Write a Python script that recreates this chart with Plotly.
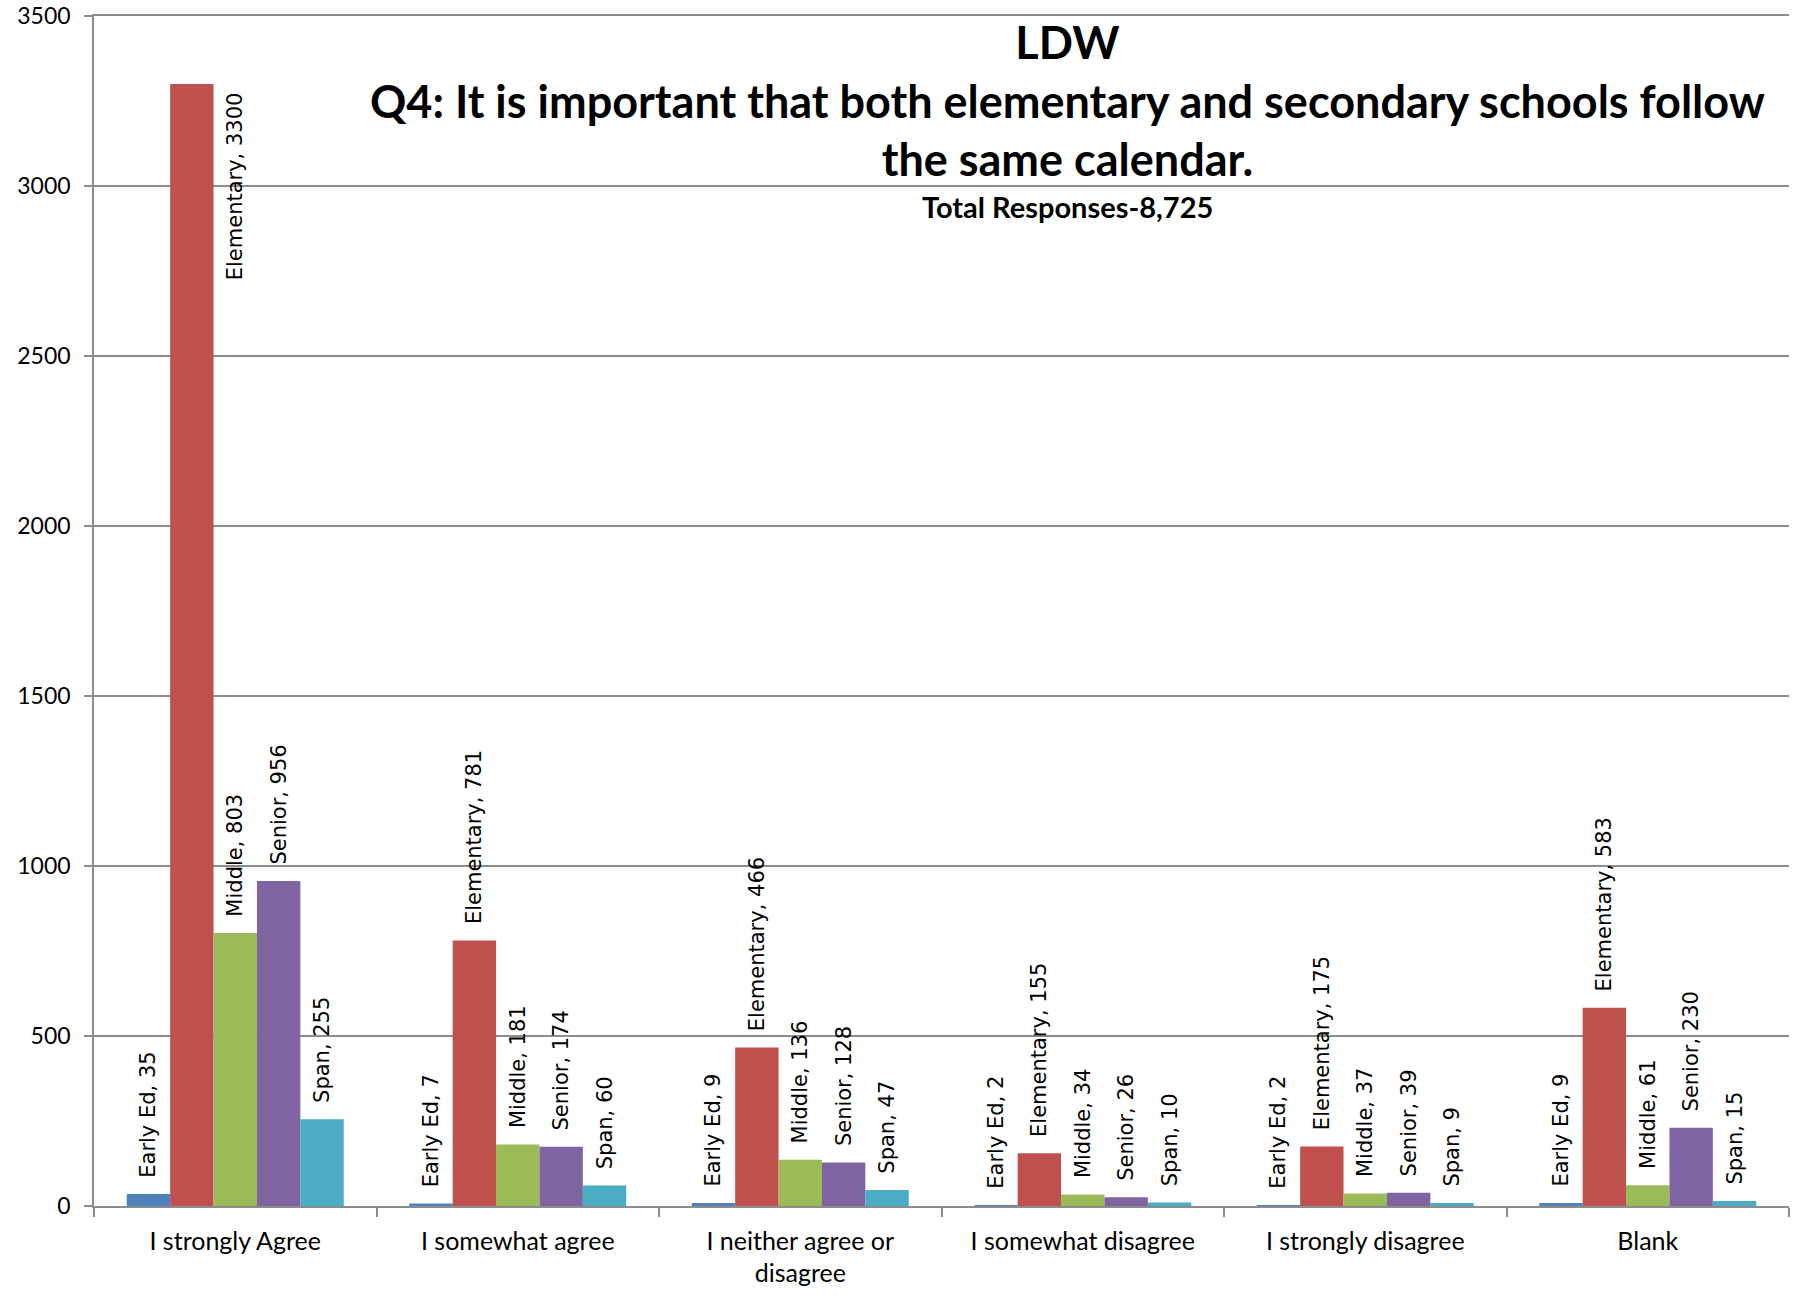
import plotly.graph_objects as go

# Survey categories and counts per school level
categories = ["I strongly Agree", "I somewhat agree", "I neither agree or<br>disagree",
              "I somewhat disagree", "I strongly disagree", "Blank"]
early_ed = [35, 7, 9, 2, 2, 9]
elementary = [3300, 781, 466, 155, 175, 583]
middle = [803, 181, 136, 34, 37, 61]
senior = [956, 174, 128, 26, 39, 230]
span = [255, 60, 47, 10, 9, 15]

series_names = ["Early Ed", "Elementary", "Middle", "Senior", "Span"]
series_values = [early_ed, elementary, middle, senior, span]
colors = ["#4F81BD", "#C0504D", "#9BBB59", "#8064A2", "#4BACC6"]

y_ticks = [0, 500, 1000, 1500, 2000, 2500, 3000, 3500]

title_text = ("LDW<br>Q4: It is important that both elementary and secondary schools follow"
              "<br>the same calendar.")
subtitle_text = "Total Responses-8,725"

Y_MAX = 3500
LABEL_FONT = dict(family="DejaVu Sans", size=21, color="black")
NBSP = "\u00a0"

fig = go.Figure()
big_labels = []
for name, vals, col in zip(series_names, series_values, colors):
    texts = []
    for cat, v in zip(categories, vals):
        lab = f"{name}, {v}"
        # labels that would run past the top of the axis go beside the bar
        if v > Y_MAX - 600:
            texts.append("")
            big_labels.append((cat, v, lab))
        else:
            texts.append(NBSP * 2 + lab)
    fig.add_trace(go.Bar(
        x=categories, y=vals, name=name,
        marker=dict(color=col, line=dict(width=0)),
        text=texts, textposition="outside", textangle=-90,
        textfont=LABEL_FONT, constraintext="none", cliponaxis=False,
    ))

for cat, v, lab in big_labels:
    fig.add_annotation(x=cat, y=v, xref="x", yref="y", text=lab, textangle=-90,
                       showarrow=False, xanchor="center", yanchor="top", yshift=-6,
                       font=LABEL_FONT)

fig.add_annotation(x=0.5746, y=0.9294, xref="paper", yref="paper", text=title_text,
                   showarrow=False, xanchor="center", yanchor="middle",
                   font=dict(family="Lato", size=45, color="black", weight="bold"))
fig.add_annotation(x=0.5746, y=0.8395, xref="paper", yref="paper", text=subtitle_text,
                   showarrow=False, xanchor="center", yanchor="middle",
                   font=dict(family="Lato", size=29, color="black", weight="bold"))

grid = "#8C8C8C"
fig.update_layout(
    width=1818, height=1304,
    margin=dict(l=94, r=29, t=16, b=98),
    paper_bgcolor="white", plot_bgcolor="white",
    barmode="group", bargap=0.232, bargroupgap=0,
    showlegend=False,
    font=dict(family="Lato", color="black"),
    xaxis=dict(
        showline=True, linecolor=grid, linewidth=1.5, mirror=True,  # top line = 3500 grid
        ticks="outside", tickson="boundaries", ticklen=9, tickcolor=grid, tickwidth=1.5,
        tickfont=dict(family="Lato", size=25, color="black"),
        ticklabelstandoff=12,
        showgrid=False, automargin=False,
    ),
    yaxis=dict(
        range=[0, Y_MAX], tickvals=y_ticks,
        showline=True, linecolor=grid, linewidth=1.5,
        ticks="outside", ticklen=8, tickcolor=grid, tickwidth=1.5,
        showgrid=True, gridcolor=grid, gridwidth=1.5,
        zeroline=False,
        tickfont=dict(family="Lato", size=23, color="black"),
        ticklabelstandoff=9, automargin=False, ticklabeloverflow="allow",
    ),
)

# drop the default 8px body margin so the figure sits at the page corner
fig.write_html("out.html", config={"displayModeBar": False},
               post_script="document.body.style.margin='0';")
